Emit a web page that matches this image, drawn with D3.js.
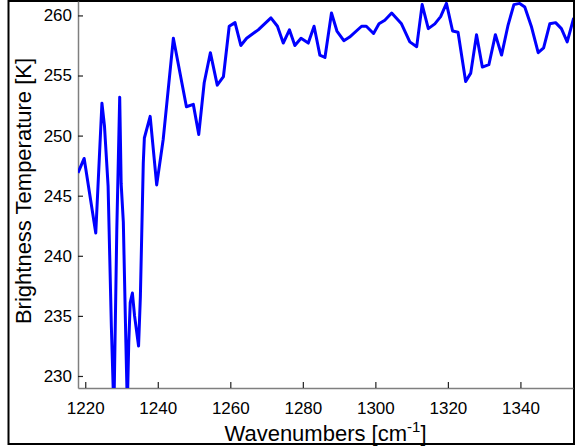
<!DOCTYPE html>
<html>
<head>
<meta charset="utf-8">
<script src="https://cdn.jsdelivr.net/npm/d3@7"></script>
<style>
  html, body { margin: 0; padding: 0; background: #fff; }
  svg { display: block; font-family: "Liberation Sans", Arial, sans-serif; }
</style>
</head>
<body>
<svg id="chart" width="577" height="448"></svg>
<script>
// Brightness temperature spectrum (wavenumber in cm^-1, temperature in K)
const wavenumbers = [
  1218.0, 1219.7, 1222.9, 1224.6, 1225.3, 1226.3, 1227.2, 1227.9, 1228.7, 1229.5,
  1229.9, 1230.5, 1231.2, 1231.6, 1232.0, 1232.4, 1233.0, 1233.6, 1234.7, 1235.2,
  1236.0, 1236.3, 1237.9, 1239.7, 1241.5, 1242.5, 1244.3, 1247.9, 1249.8, 1251.3,
  1252.8, 1254.5, 1256.4, 1258.1, 1259.7, 1261.3, 1262.9, 1264.5, 1267.7, 1271.2,
  1273.0, 1274.6, 1276.3, 1277.8, 1279.5, 1281.5, 1283.1, 1284.7, 1286.1, 1287.9,
  1289.4, 1291.3, 1292.9, 1296.2, 1297.5, 1299.5, 1301.0, 1302.6, 1304.5, 1307.2,
  1309.5, 1311.4, 1312.9, 1314.6, 1316.4, 1318.0, 1319.6, 1321.3, 1322.8, 1324.9,
  1326.3, 1327.9, 1329.5, 1331.3, 1333.1, 1334.8, 1336.6, 1338.2, 1339.8, 1341.2,
  1343.0, 1344.9, 1346.4, 1348.1, 1349.7, 1351.3, 1352.9, 1354.7
];
const temperatures = [
  246.9, 248.1, 241.9, 252.7, 250.8, 245.8, 234.1, 227.0, 242.2, 253.2,
  246.0, 242.8, 232.8, 227.5, 232.8, 236.1, 236.9, 235.0, 232.5, 236.6,
  247.7, 249.8, 251.6, 245.9, 249.7, 252.7, 258.1, 252.4, 252.6, 250.1,
  254.4, 256.9, 254.2, 254.9, 259.1, 259.4, 257.5, 258.1, 258.8, 259.8,
  259.1, 257.7, 258.8, 257.5, 258.1, 257.7, 259.1, 256.7, 256.5, 260.2,
  258.7, 257.9, 258.2, 259.1, 259.1, 258.5, 259.3, 259.6, 260.2, 259.3,
  257.8, 257.4, 260.9, 258.9, 259.3, 259.9, 261.0, 258.7, 258.6, 254.5,
  255.2, 258.4, 255.7, 255.9, 258.4, 256.7, 259.2, 260.9, 261.0, 260.7,
  259.1, 256.9, 257.3, 259.3, 259.4, 258.9, 257.8, 259.8
];
const xTicks = [1220, 1240, 1260, 1280, 1300, 1320, 1340];
const yTicks = [230, 235, 240, 245, 250, 255, 260];
const xDomain = [1218, 1354.5];
const yDomain = [229, 261.2];

const svg = d3.select("#chart");
const plot = { left: 78, top: 1, right: 573, bottom: 388 };

const x = d3.scaleLinear().domain(xDomain).range([plot.left, plot.right]);
const y = d3.scaleLinear().domain(yDomain).range([plot.bottom, plot.top]);

// outer figure frame
svg.append("rect")
  .attr("x", 8.5).attr("y", 1).attr("width", 565.5).attr("height", 443)
  .attr("fill", "#fff").attr("stroke", "#000").attr("stroke-width", 2);

svg.append("defs").append("clipPath").attr("id", "plot-clip")
  .append("rect")
  .attr("x", plot.left).attr("y", plot.top)
  .attr("width", plot.right - plot.left).attr("height", plot.bottom - plot.top);

// x axis, ticks pointing inward
const xAxis = svg.append("g")
  .attr("transform", `translate(0,${plot.bottom})`)
  .call(d3.axisBottom(x).tickValues(xTicks).tickSizeInner(-6).tickSizeOuter(0).tickPadding(14).tickFormat(d3.format("d")));
xAxis.select(".domain").attr("stroke", "#7f7f7f").attr("stroke-width", 1.5);
xAxis.selectAll(".tick line").attr("stroke", "#222").attr("stroke-width", 1.2);
xAxis.selectAll(".tick text").attr("font-size", 17).attr("fill", "#000")
  .attr("font-family", "'Liberation Sans', Arial, sans-serif");

// y axis, ticks pointing inward
const yAxis = svg.append("g")
  .attr("transform", `translate(${plot.left},0)`)
  .call(d3.axisLeft(y).tickValues(yTicks).tickSizeInner(-5).tickSizeOuter(0).tickPadding(6).tickFormat(d3.format("d")));
yAxis.select(".domain").attr("stroke", "#7f7f7f").attr("stroke-width", 1.5);
yAxis.selectAll(".tick line").attr("stroke", "#222").attr("stroke-width", 1.2);
yAxis.selectAll(".tick text").attr("font-size", 17).attr("fill", "#000")
  .attr("font-family", "'Liberation Sans', Arial, sans-serif");

// spectrum line
const series = wavenumbers.map((w, i) => [w, temperatures[i]]);
svg.append("path")
  .datum(series)
  .attr("clip-path", "url(#plot-clip)")
  .attr("fill", "none")
  .attr("stroke", "#0000ff")
  .attr("stroke-width", 3)
  .attr("stroke-linejoin", "round")
  .attr("d", d3.line().x(d => x(d[0])).y(d => y(d[1])));

// axis titles
const xTitle = svg.append("text")
  .attr("x", (plot.left + plot.right) / 2).attr("y", 441)
  .attr("text-anchor", "middle").attr("font-size", 22).attr("fill", "#000");
xTitle.append("tspan").text("Wavenumbers [cm");
xTitle.append("tspan").attr("font-size", 15).attr("dy", -9).text("-1");
xTitle.append("tspan").attr("dy", 9).text("]");

svg.append("text")
  .attr("transform", `translate(31,${(52 + 330) / 2}) rotate(-90)`)
  .attr("text-anchor", "middle").attr("font-size", 22).attr("fill", "#000")
  .text("Brightness Temperature [K]");
</script>
</body>
</html>
